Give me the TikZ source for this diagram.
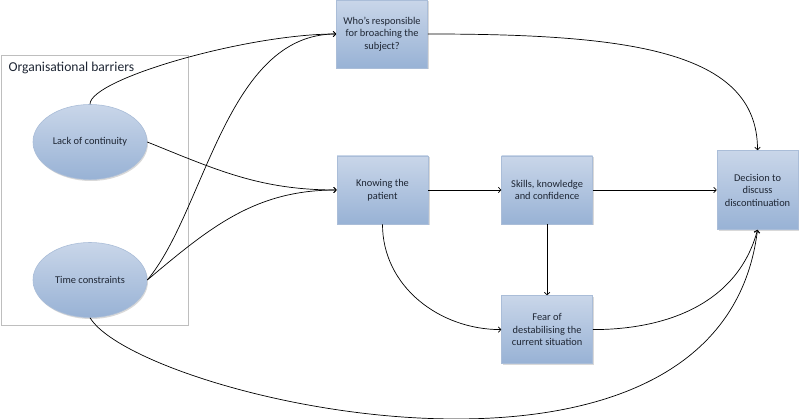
\documentclass[tikz,border=0pt]{standalone}
\usepackage{fontspec}
\setmainfont{Carlito}
\usetikzlibrary{shapes.geometric,positioning,arrows.meta,shadows}

\definecolor{boxTop}{RGB}{201,214,233}
\definecolor{boxBottom}{RGB}{152,178,213}
\definecolor{boxBorder}{RGB}{170,189,216}
\definecolor{textDark}{RGB}{30,38,52}
\definecolor{frameGray}{RGB}{190,190,190}

\begin{document}
\begin{tikzpicture}[
    x=1pt, y=1pt,
    boxNode/.style={rectangle, draw=boxBorder, line width=0.6pt, top color=boxTop, bottom color=boxBottom, minimum width=91pt, minimum height=68pt, align=center, inner sep=2pt, text=textDark, font=\fontsize{10.4}{12.5}\selectfont, drop shadow={shadow xshift=1.5pt, shadow yshift=-1.5pt, opacity=0.3}},
    ellipseNode/.style={ellipse, draw=boxBorder, line width=0.6pt, top color=boxTop, bottom color=boxBottom, minimum width=114pt, minimum height=75pt, inner sep=0pt, text=textDark, font=\fontsize{10.4}{12.5}\selectfont, drop shadow={shadow xshift=1pt, shadow yshift=-1.5pt, opacity=0.3}},
    arrow/.style={-{Straight Barb[length=2.5pt, width=5.5pt]}, line width=0.7pt}
  ]
  \useasboundingbox (0,0) rectangle (799,419);

  % Organisational barriers
  \draw[frameGray, line width=0.7pt] (1,94) rectangle (188,364);
  \node[anchor=west, text=textDark, font=\fontsize{13.6}{16}\selectfont] (barriers) at (5,351) {Organisational barriers};
  \node[ellipseNode] (continuity) at (90,277) {Lack of continuity};
  \node[ellipseNode] (time) at (90,139) {Time constraints};

  % Boxes
  \node[boxNode] (broach) at (382,385) {Who’s responsible\\for broaching the\\subject?};
  \node[boxNode] (knowing) at (382.5,229) {Knowing the\\patient};
  \node[boxNode, right=73pt of knowing] (skills) {Skills, knowledge\\and confidence};
  \node[boxNode, below=71pt of skills] (fear) {Fear of\\destabilising the\\current situation};
  \node[boxNode, minimum width=81pt, minimum height=79pt] (decision) at (757.5,229) {Decision to\\discuss\\discontinuation};

  % Arrows
  \draw[arrow] (continuity.north) .. controls (90,340) and (247,385) .. (broach.west);
  \draw[arrow] (continuity.east) to[out=-22, in=180] (knowing.west);
  \draw[arrow] (time.east) to[out=50, in=180, out distance=90pt, in distance=110pt] (broach.west);
  \draw[arrow] (time.east) to[out=40, in=180] (knowing.west);
  \draw[arrow] (time.south) .. controls (140,20) and (720,-115) .. (decision.south);
  \draw[arrow] (broach.east) to[out=0, in=90, out distance=200pt, in distance=100pt] (decision.north);
  \draw[arrow] (knowing) -- (skills);
  \draw[arrow] (skills) -- (decision);
  \draw[arrow] (skills) -- (fear);
  \draw[arrow] (knowing.south) to[out=-90, in=180] (fear.west);
  \draw[arrow] (fear.east) to[out=0, in=-105] (decision.south);

\end{tikzpicture}
\end{document}
